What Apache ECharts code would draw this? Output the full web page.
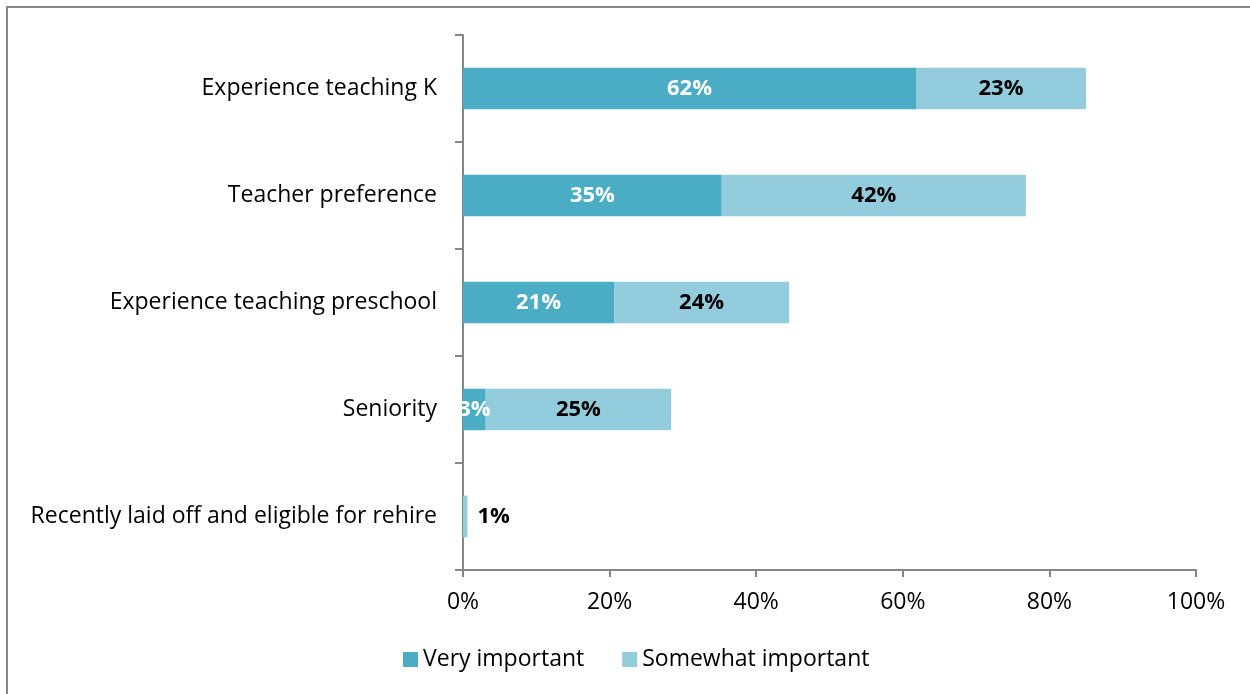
<!DOCTYPE html>
<html>
<head>
<meta charset="utf-8">
<script src="https://cdn.jsdelivr.net/npm/echarts@6/dist/echarts.min.js"></script>
<style>
  html, body { margin: 0; padding: 0; background: #fff; }
  #chart { width: 1250px; height: 694px; }
</style>
</head>
<body>
<div id="chart"></div>
<script>
const categories = [
  'Experience teaching K',
  'Teacher preference',
  'Experience teaching preschool',
  'Seniority',
  'Recently laid off and eligible for rehire'
]
const veryImportant = [61.8, 35.3, 20.6, 3.1, 0]
const somewhatImportant = [23.2, 41.5, 23.9, 25.3, 0.6]
const xTicks = [0, 20, 40, 60, 80, 100]

const fontFamily = '"Open Sans", sans-serif'
const axisGray = '#868686'

const chart = echarts.init(document.getElementById('chart'))

const pct = p => Math.round(p.value) + '%'

const veryData = veryImportant.map(v => {
  if (v === 0) {
    return { value: v, label: { show: false } }
  }
  return v
})
// tiny segment: put the label outside the bar
const somewhatData = somewhatImportant.map(v => {
  if (v < 2) {
    return { value: v, label: { position: 'right', distance: 10 } }
  }
  return v
})

chart.setOption({
  animation: false,
  color: ['#4BACC6', '#93CDDD'],
  textStyle: { fontFamily: fontFamily },
  graphic: [{
    type: 'rect',
    shape: { x: 7, y: 7, width: 1400, height: 900 },
    style: { fill: 'none', stroke: '#878787', lineWidth: 2 },
    silent: true
  }],
  grid: {
    left: 463,
    right: 54,
    top: 35,
    bottom: 124,
    containLabel: false
  },
  legend: {
    top: 643,
    left: 398,
    itemWidth: 15,
    itemHeight: 15,
    itemGap: 38,
    icon: 'rect',
    textStyle: { fontSize: 23, color: '#000', fontFamily: fontFamily },
    data: ['Very important', 'Somewhat important']
  },
  xAxis: {
    type: 'value',
    min: 0,
    max: 100,
    interval: 20,
    axisLine: { show: true, lineStyle: { color: axisGray, width: 2 } },
    axisTick: { show: true, length: 7, lineStyle: { color: axisGray, width: 2 } },
    splitLine: { show: false },
    axisLabel: {
      margin: 21,
      fontSize: 23,
      color: '#000',
      fontFamily: fontFamily,
      formatter: v => (xTicks.indexOf(v) >= 0 ? v + '%' : '')
    }
  },
  yAxis: {
    type: 'category',
    inverse: true,
    data: categories,
    axisLine: { show: true, lineStyle: { color: axisGray, width: 2 } },
    axisTick: { show: true, length: 8, lineStyle: { color: axisGray, width: 2 } },
    axisLabel: {
      margin: 26,
      fontSize: 23,
      color: '#000',
      fontFamily: fontFamily
    }
  },
  series: [{
    name: 'Very important',
    type: 'bar',
    stack: 'total',
    barWidth: '39%',
    data: veryData,
    label: {
      show: true,
      position: 'inside',
      formatter: pct,
      color: '#fff',
      fontWeight: 'bold',
      fontSize: 22,
      fontFamily: fontFamily
    }
  }, {
    name: 'Somewhat important',
    type: 'bar',
    stack: 'total',
    barWidth: '39%',
    data: somewhatData,
    label: {
      show: true,
      position: 'inside',
      formatter: pct,
      color: '#000',
      fontWeight: 'bold',
      fontSize: 22,
      fontFamily: fontFamily
    }
  }]
})
</script>
</body>
</html>
